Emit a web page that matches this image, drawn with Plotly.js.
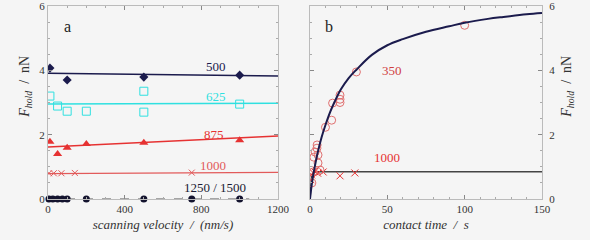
<!DOCTYPE html>
<html>
<head>
<meta charset="utf-8">
<script src="https://cdn.plot.ly/plotly-3.0.1.min.js"></script>
<style>html,body{margin:0;padding:0;background:#f5f5f5;}#chart{width:590px;height:240px;}</style>
</head>
<body>
<div id="chart"></div>
<script>
// ---- Panel a: hold force vs scanning velocity ----
const v500 = [10, 100, 500, 1000];
const f500 = [4.07, 3.70, 3.79, 3.85];
const fit500X = [0, 1200];
const fit500Y = [3.91, 3.82];

const v625 = [10, 50, 100, 200, 500, 500, 1000];
const f625 = [3.20, 2.89, 2.73, 2.73, 3.35, 2.70, 2.95];
const fit625X = [0, 1200];
const fit625Y = [2.95, 2.98];

const v875 = [10, 50, 100, 200, 500, 1000];
const f875 = [1.78, 1.40, 1.59, 1.71, 1.75, 1.83];
const fit875X = [0, 1200];
const fit875Y = [1.62, 1.96];

const v1000 = [5, 30, 70, 140, 750];
const f1000 = [0.80, 0.80, 0.80, 0.81, 0.82];
const fit1000X = [0, 1200];
const fit1000Y = [0.79, 0.83];

const v1250 = [5, 25, 50, 75, 100, 200, 500, 750, 1000];
const f1250 = [0, 0, 0, 0, 0, 0, 0, 0, 0];
const zeroX = [0, 1050];
const zeroY = [0, 0];

// ---- Panel b: hold force vs contact time ----
const t350 = [1.2, 2, 6.5, 5.2, 5.2, 4.5, 3.3, 4.6, 2.5, 10, 14, 14.6, 19.4, 19.4, 19.4, 30, 100];
const f350 = [0.50, 0.84, 0.90, 1.12, 1.37, 1.58, 1.46, 1.68, 1.30, 2.23, 2.45, 2.98, 3.00, 3.10, 3.23, 3.95, 5.40];
const curve350T = [0, 1, 2, 3, 5, 7.5, 10, 13, 16, 20, 25, 30, 40, 50, 60, 75, 90, 100, 115, 125, 140, 150];
const curve350F = [0, 0.40, 0.72, 0.98, 1.45, 1.92, 2.30, 2.70, 3.03, 3.41, 3.76, 4.02, 4.48, 4.78, 4.97, 5.20, 5.37, 5.48, 5.60, 5.66, 5.74, 5.78];

const t1000 = [0.5, 1, 2, 3, 4, 5, 8.5, 19.4, 29];
const f1000b = [0.60, 0.75, 0.82, 0.85, 0.90, 0.80, 0.84, 0.72, 0.81];
const curve1000T = [0, 0.5, 1, 2, 4, 150];
const curve1000F = [0, 0.50, 0.70, 0.80, 0.85, 0.85];

const yTicks = [0, 2, 4, 6];

const navy = '#1b1b4d', cyan = '#2fe0e0', red = '#e63232', red2 = '#e25a5a', gray = '#555555';
const SERIF = '"Liberation Serif", "Times New Roman", "DejaVu Serif", serif';

const traces = [
  {x: zeroX, y: zeroY, mode: 'lines', line: {color: gray, width: 1, dash: 'dash'}, xaxis: 'x', yaxis: 'y', hoverinfo: 'skip'},
  {x: fit500X, y: fit500Y, mode: 'lines', line: {color: navy, width: 1.5}, xaxis: 'x', yaxis: 'y'},
  {x: v500, y: f500, mode: 'markers', marker: {symbol: 'diamond', size: 7, color: navy}, xaxis: 'x', yaxis: 'y'},
  {x: fit625X, y: fit625Y, mode: 'lines', line: {color: cyan, width: 1.5}, xaxis: 'x', yaxis: 'y'},
  {x: v625, y: f625, mode: 'markers', marker: {symbol: 'square-open', size: 8, color: cyan, line: {width: 1}}, xaxis: 'x', yaxis: 'y'},
  {x: fit875X, y: fit875Y, mode: 'lines', line: {color: red, width: 1.5}, xaxis: 'x', yaxis: 'y'},
  {x: v875, y: f875, mode: 'markers', marker: {symbol: 'triangle-up', size: 8, color: red}, xaxis: 'x', yaxis: 'y'},
  {x: fit1000X, y: fit1000Y, mode: 'lines', line: {color: red2, width: 1.3}, xaxis: 'x', yaxis: 'y'},
  {x: v1000, y: f1000, mode: 'markers', marker: {symbol: 'x-thin-open', size: 6, color: red2, line: {width: 1, color: red2}}, xaxis: 'x', yaxis: 'y'},
  {x: v1250, y: f1250, mode: 'markers', marker: {symbol: 'circle', size: 7, color: '#13132e'}, xaxis: 'x', yaxis: 'y', cliponaxis: false},

  {x: curve1000T, y: curve1000F, mode: 'lines', line: {color: '#444444', width: 1.5}, xaxis: 'x2', yaxis: 'y2'},
  {x: t1000, y: f1000b, mode: 'markers', marker: {symbol: 'x-thin-open', size: 7, color: red, line: {width: 1, color: red}}, xaxis: 'x2', yaxis: 'y2'},
  {x: t350, y: f350, mode: 'markers', marker: {symbol: 'circle-open', size: 8, color: '#e07070', line: {width: 1}}, xaxis: 'x2', yaxis: 'y2'},
  {x: curve350T, y: curve350F, mode: 'lines', line: {color: navy, width: 2, shape: 'spline'}, xaxis: 'x2', yaxis: 'y2'}
];

const tickFont = {family: SERIF, size: 11, color: '#333'};
const axBase = {showgrid: false, zeroline: false, showline: true, linecolor: '#bbbbbb', linewidth: 1,
  mirror: 'allticks', ticks: 'inside', ticklen: 4, tickcolor: '#888', tickfont: tickFont, fixedrange: true,
  ticklabeloverflow: 'allow'};
const annFont = (c, s) => ({family: SERIF, size: s || 13, color: c});

const layout = {
  width: 590, height: 240,
  margin: {l: 0, r: 0, t: 6, b: 41},
  paper_bgcolor: '#f5f5f5', plot_bgcolor: '#f5f5f5',
  showlegend: false,
  font: {family: SERIF, color: '#333'},
  xaxis: Object.assign({}, axBase, {domain: [48/590, 278/590], range: [0, 1200], tickvals: [0, 400, 800, 1200],
    minor: {dtick: 100, ticks: 'inside', ticklen: 2, tickcolor: '#aaa'},
    title: {text: '<i>scanning velocity  /  (nm/s)</i>', font: annFont('#333', 13), standoff: 5}}),
  yaxis: Object.assign({}, axBase, {domain: [0, 1], range: [0, 6], tickvals: yTicks, anchor: 'x',
    minor: {dtick: 0.5, ticks: 'inside', ticklen: 2, tickcolor: '#aaa'}}),
  xaxis2: Object.assign({}, axBase, {domain: [310/590, 542/590], range: [0, 150], tickvals: [0, 50, 100, 150], anchor: 'y2',
    minor: {dtick: 10, ticks: 'inside', ticklen: 2, tickcolor: '#aaa'},
    title: {text: '<i>contact time  /  s</i>', font: annFont('#333', 13), standoff: 5}}),
  yaxis2: Object.assign({}, axBase, {domain: [0, 1], range: [0, 6], tickvals: yTicks, anchor: 'x2', side: 'right',
    ticklabelstandoff: 4,
    minor: {dtick: 0.5, ticks: 'inside', ticklen: 2, tickcolor: '#aaa'}}),
  annotations: [
    {xref: 'paper', yref: 'paper', x: 15/590, y: 0.75, text: '<i>F</i><sub><i>hold</i></sub>  /  nN', textangle: -90, showarrow: false, font: annFont('#333', 14)},
    {xref: 'paper', yref: 'paper', x: 578/590, y: 0.75, text: '<i>F</i><sub><i>hold</i></sub>  /  nN', textangle: -90, showarrow: false, font: annFont('#333', 14)},
    {xref: 'x', yref: 'y', x: 100, y: 5.35, text: 'a', showarrow: false, font: annFont('#222', 16)},
    {xref: 'x2', yref: 'y2', x: 12, y: 5.35, text: 'b', showarrow: false, font: annFont('#222', 16)},
    {xref: 'x', yref: 'y', x: 875, y: 4.12, text: '500', showarrow: false, font: annFont(navy)},
    {xref: 'x', yref: 'y', x: 875, y: 3.18, text: '625', showarrow: false, font: annFont(cyan)},
    {xref: 'x', yref: 'y', x: 865, y: 2.0, text: '875', showarrow: false, font: annFont(red)},
    {xref: 'x', yref: 'y', x: 860, y: 1.05, text: '1000', showarrow: false, font: annFont(red2)},
    {xref: 'x', yref: 'y', x: 870, y: 0.36, text: '1250 / 1500', showarrow: false, font: annFont('#1a1a33')},
    {xref: 'x2', yref: 'y2', x: 53, y: 4.0, text: '350', showarrow: false, font: annFont('#d04040')},
    {xref: 'x2', yref: 'y2', x: 50, y: 1.3, text: '1000', showarrow: false, font: annFont(red)}
  ]
};

Plotly.newPlot('chart', traces, layout, {displayModeBar: false, staticPlot: true});
</script>
</body>
</html>
